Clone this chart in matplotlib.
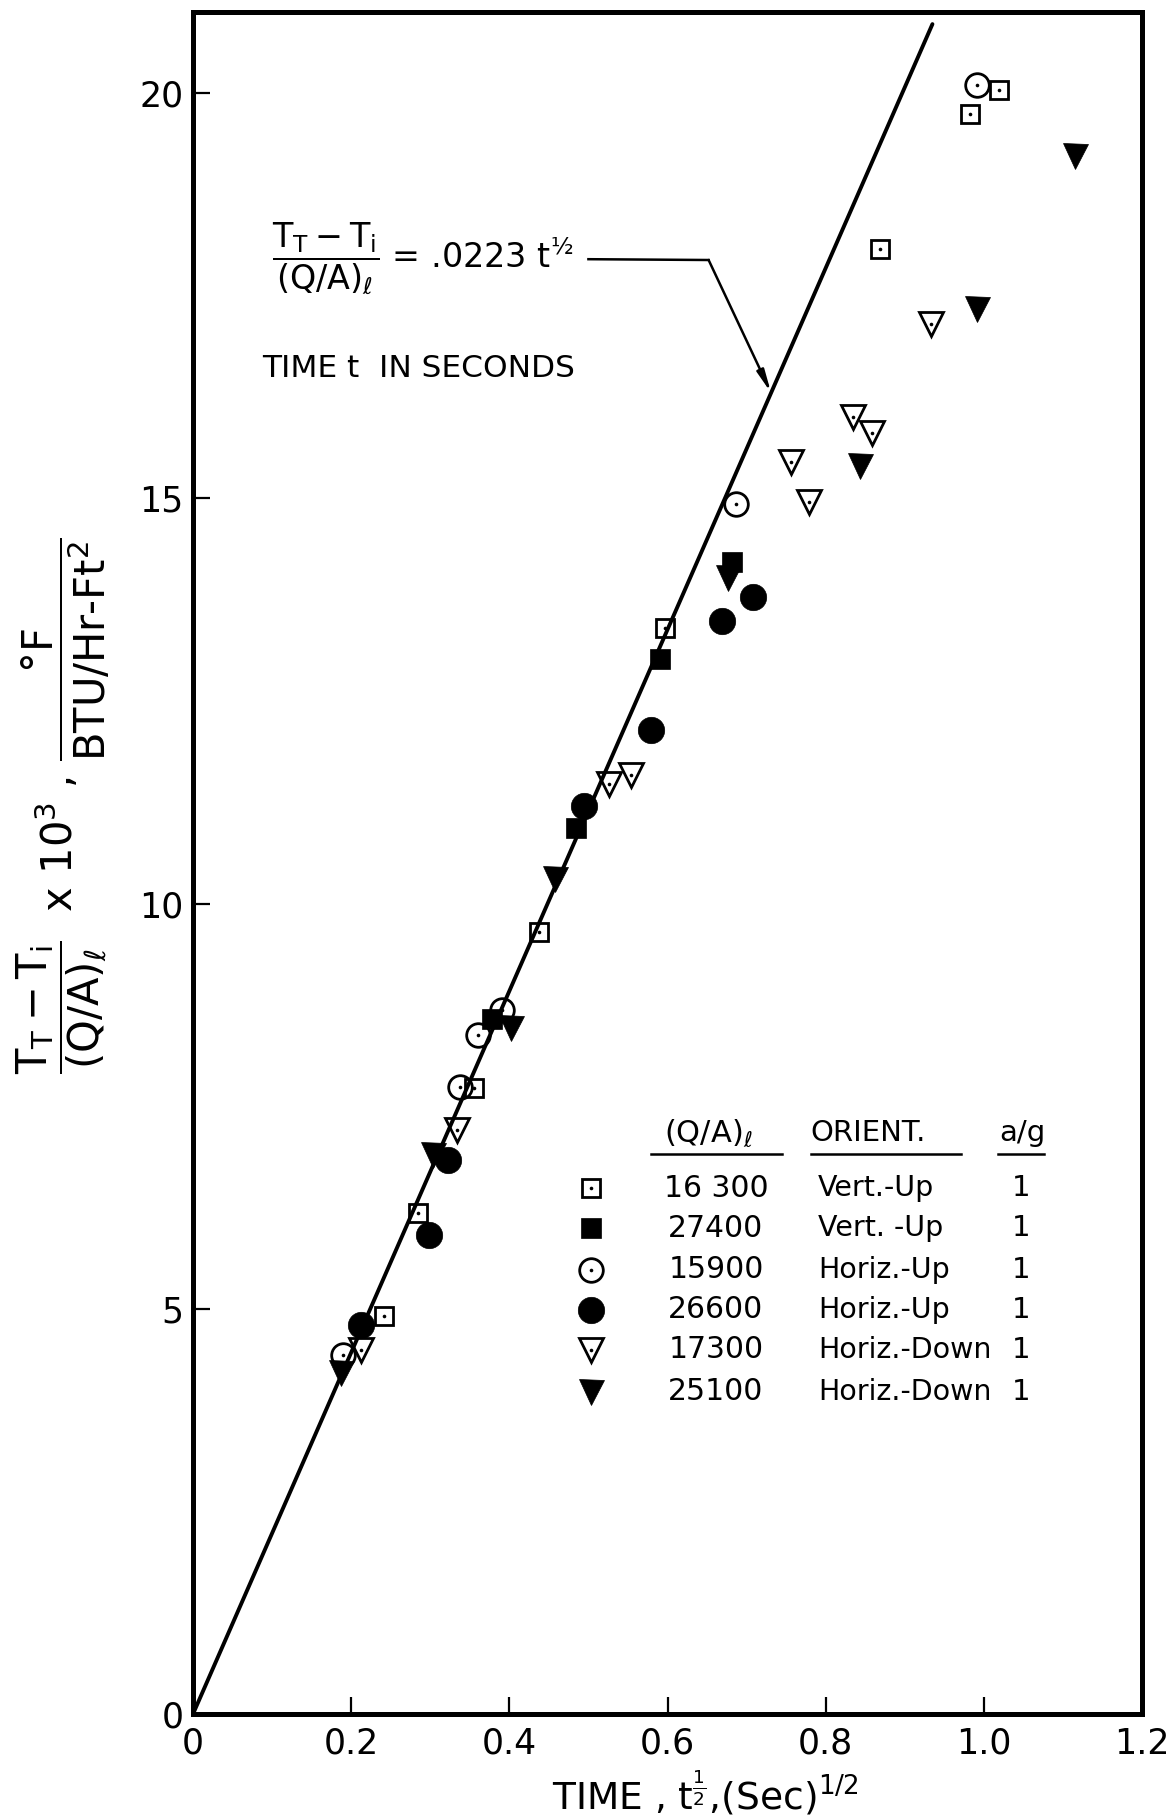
import matplotlib
matplotlib.use("Agg")
import matplotlib.pyplot as plt
import numpy as np

plt.rcParams['font.family'] = ['DejaVu Sans']
plt.rcParams['mathtext.fontset'] = 'dejavusans'

# ---- data: x = t^(1/2) [sec^1/2], y = (T_T - T_i)/(Q/A)_l x 10^3 ----
vert_up_16300_x = [1.019, 0.983, 0.869, 0.597, 0.438, 0.355, 0.285, 0.242]
vert_up_16300_y = [20.04, 19.74, 18.07, 13.40, 9.65, 7.72, 6.18, 4.91]

vert_up_27400_x = [0.682, 0.590, 0.484, 0.378]
vert_up_27400_y = [14.21, 13.02, 10.93, 8.57]

horiz_up_15900_x = [0.991, 0.687, 0.391, 0.361, 0.337, 0.190]
horiz_up_15900_y = [20.10, 14.93, 8.69, 8.38, 7.74, 4.43]

horiz_up_26600_x = [0.708, 0.669, 0.579, 0.494, 0.322, 0.299, 0.212]
horiz_up_26600_y = [13.78, 13.49, 12.14, 11.20, 6.84, 5.91, 4.80]

horiz_down_17300_x = [0.933, 0.834, 0.859, 0.756, 0.779, 0.554, 0.526, 0.334, 0.213]
horiz_down_17300_y = [17.15, 16.00, 15.80, 15.45, 14.95, 11.59, 11.47, 7.21, 4.49]

horiz_down_25100_x = [1.115, 0.991, 0.844, 0.677, 0.458, 0.402, 0.303, 0.187]
horiz_down_25100_y = [19.22, 17.33, 15.40, 14.02, 10.30, 8.47, 6.90, 4.21]

heat_flux = ["16 300", "27400", "15900", "26600", "17300", "25100"]
orientation = ["Vert.-Up", "Vert. -Up", "Horiz.-Up", "Horiz.-Up", "Horiz.-Down", "Horiz.-Down"]
accel = ["1", "1", "1", "1", "1", "1"]

x_ticks = [0, 0.2, 0.4, 0.6, 0.8, 1.0, 1.2]
x_tick_labels = ["0", "0.2", "0.4", "0.6", "0.8", "1.0", "1.2"]
y_ticks = [0, 5, 10, 15, 20]
y_tick_labels = ["0", "5", "10", "15", "20"]

# correlation: (T_T - T_i)/(Q/A)_l = .0223 t^1/2  (plotted x 10^3)
coef = 0.0223
line_x_end = 0.935

# marker style per series: (marker, open?, size)
series = [
    (vert_up_16300_x, vert_up_16300_y, 's', True, 13.5),
    (vert_up_27400_x, vert_up_27400_y, 's', False, 15),
    (horiz_up_15900_x, horiz_up_15900_y, 'o', True, 17),
    (horiz_up_26600_x, horiz_up_26600_y, 'o', False, 19),
    (horiz_down_17300_x, horiz_down_17300_y, 'v', True, 17),
    (horiz_down_25100_x, horiz_down_25100_y, 'v', False, 18),
]

W, H = 1176, 1818
fig = plt.figure(figsize=(W / 100, H / 100), dpi=100)
L, R, B, T = 193, 1142, 1714, 12
ax = fig.add_axes([L / W, (H - B) / H, (R - L) / W, (B - T) / H])
ax.set_xlim(0, 1.2)
ax.set_ylim(0, 21.0)

for s in ax.spines.values():
    s.set_linewidth(3.6)

ax.set_xticks(x_ticks)
ax.set_xticklabels(x_tick_labels)
ax.set_yticks(y_ticks)
ax.set_yticklabels(y_tick_labels)
ax.tick_params(axis='both', direction='in', length=12, width=1.6, labelsize=25)
ax.tick_params(axis='x', pad=9)
ax.tick_params(axis='y', pad=7)

# correlation line
lx = np.array([0.0, line_x_end])
ax.plot(lx, coef * 1e3 * lx, color='black', lw=2.8, solid_capstyle='round', zorder=2)


def draw_marker(axis, x, y, marker, hollow, size, **kw):
    if hollow:
        axis.plot(x, y, linestyle='none', marker=marker, ms=size, mfc='none',
                  mec='black', mew=2.0, zorder=3, **kw)
        axis.plot(x, y, linestyle='none', marker='o', ms=2.6, mfc='black',
                  mec='black', mew=0, zorder=3, **kw)
    else:
        axis.plot(x, y, linestyle='none', marker=marker, ms=size, mfc='black',
                  mec='black', mew=0.5, zorder=3, **kw)


for x, y, m, hollow, size in series:
    draw_marker(ax, x, y, m, hollow, size)

# equation annotation with leader and arrow
eq_text = r'$\dfrac{\mathrm{T_T - T_i}}{\mathrm{(Q/A)}_{\ell}}$ = .0223 t$^{½}$'
ax.text(0.100, 17.95, eq_text, fontsize=24, ha='left', va='center')
lead_start = (0.500, 17.95)
lead_corner = (0.652, 17.94)
tip_x = 0.731
tip = (tip_x, coef * 1e3 * tip_x)
ax.plot([lead_start[0], lead_corner[0]], [lead_start[1], lead_corner[1]],
        color='black', lw=1.8)
ax.annotate('', xy=tip, xytext=lead_corner,
            arrowprops=dict(arrowstyle='-|>,head_length=1.3,head_width=0.22',
                            lw=1.8, color='black', shrinkA=0, shrinkB=0))
ax.text(0.088, 16.60, 'TIME t  IN SECONDS', fontsize=22.5, ha='left', va='center')

# legend table (axes coordinates)
tr = ax.transAxes
hdr_y = 0.3414
ax.text(0.5427, hdr_y, r'(Q/A)$_{\ell}$', transform=tr, fontsize=22, ha='center', va='center')
ax.text(0.651, hdr_y, 'ORIENT.', transform=tr, fontsize=21, ha='left', va='center')
ax.text(0.8735, hdr_y, 'a/g', transform=tr, fontsize=21, ha='center', va='center')
ul_y = 0.329
for x0, x1 in [(0.4826, 0.6206), (0.651, 0.809), (0.848, 0.897)]:
    ax.plot([x0, x1], [ul_y, ul_y], transform=tr, color='black', lw=1.8, clip_on=False)

row_y = [0.3090, 0.2855, 0.2609, 0.2374, 0.2139, 0.1892]
for (x, y, m, hollow, size), ry, q, o, a in zip(series, row_y, heat_flux, orientation, accel):
    draw_marker(ax, [0.4194], [ry], m, hollow, size, transform=tr, clip_on=False)
    ax.text(0.551, ry, q, transform=tr, fontsize=21.5, ha='center', va='center')
    ax.text(0.6586, ry, o, transform=tr, fontsize=20.5, ha='left', va='center')
    ax.text(0.8725, ry, a, transform=tr, fontsize=21, ha='center', va='center')

# axis titles
xlabel = r'TIME , t$^{\frac{1}{2}}$,(Sec)$^{1/2}$'
fig.text(705 / W, 1 - 1793 / H, xlabel, fontsize=27, ha='center', va='center')

ylabel = (r'$\dfrac{\mathrm{T_T - T_i}}{\mathrm{(Q/A)}_{\ell}}$  x 10$^3$ , '
          r'$\dfrac{\mathrm{°F}}{\mathrm{BTU/Hr‐Ft}^2}$')
fig.text(63 / W, 1 - 806 / H, ylabel, fontsize=30, rotation=90, ha='center', va='center')

fig.savefig('out.png', dpi=100)
